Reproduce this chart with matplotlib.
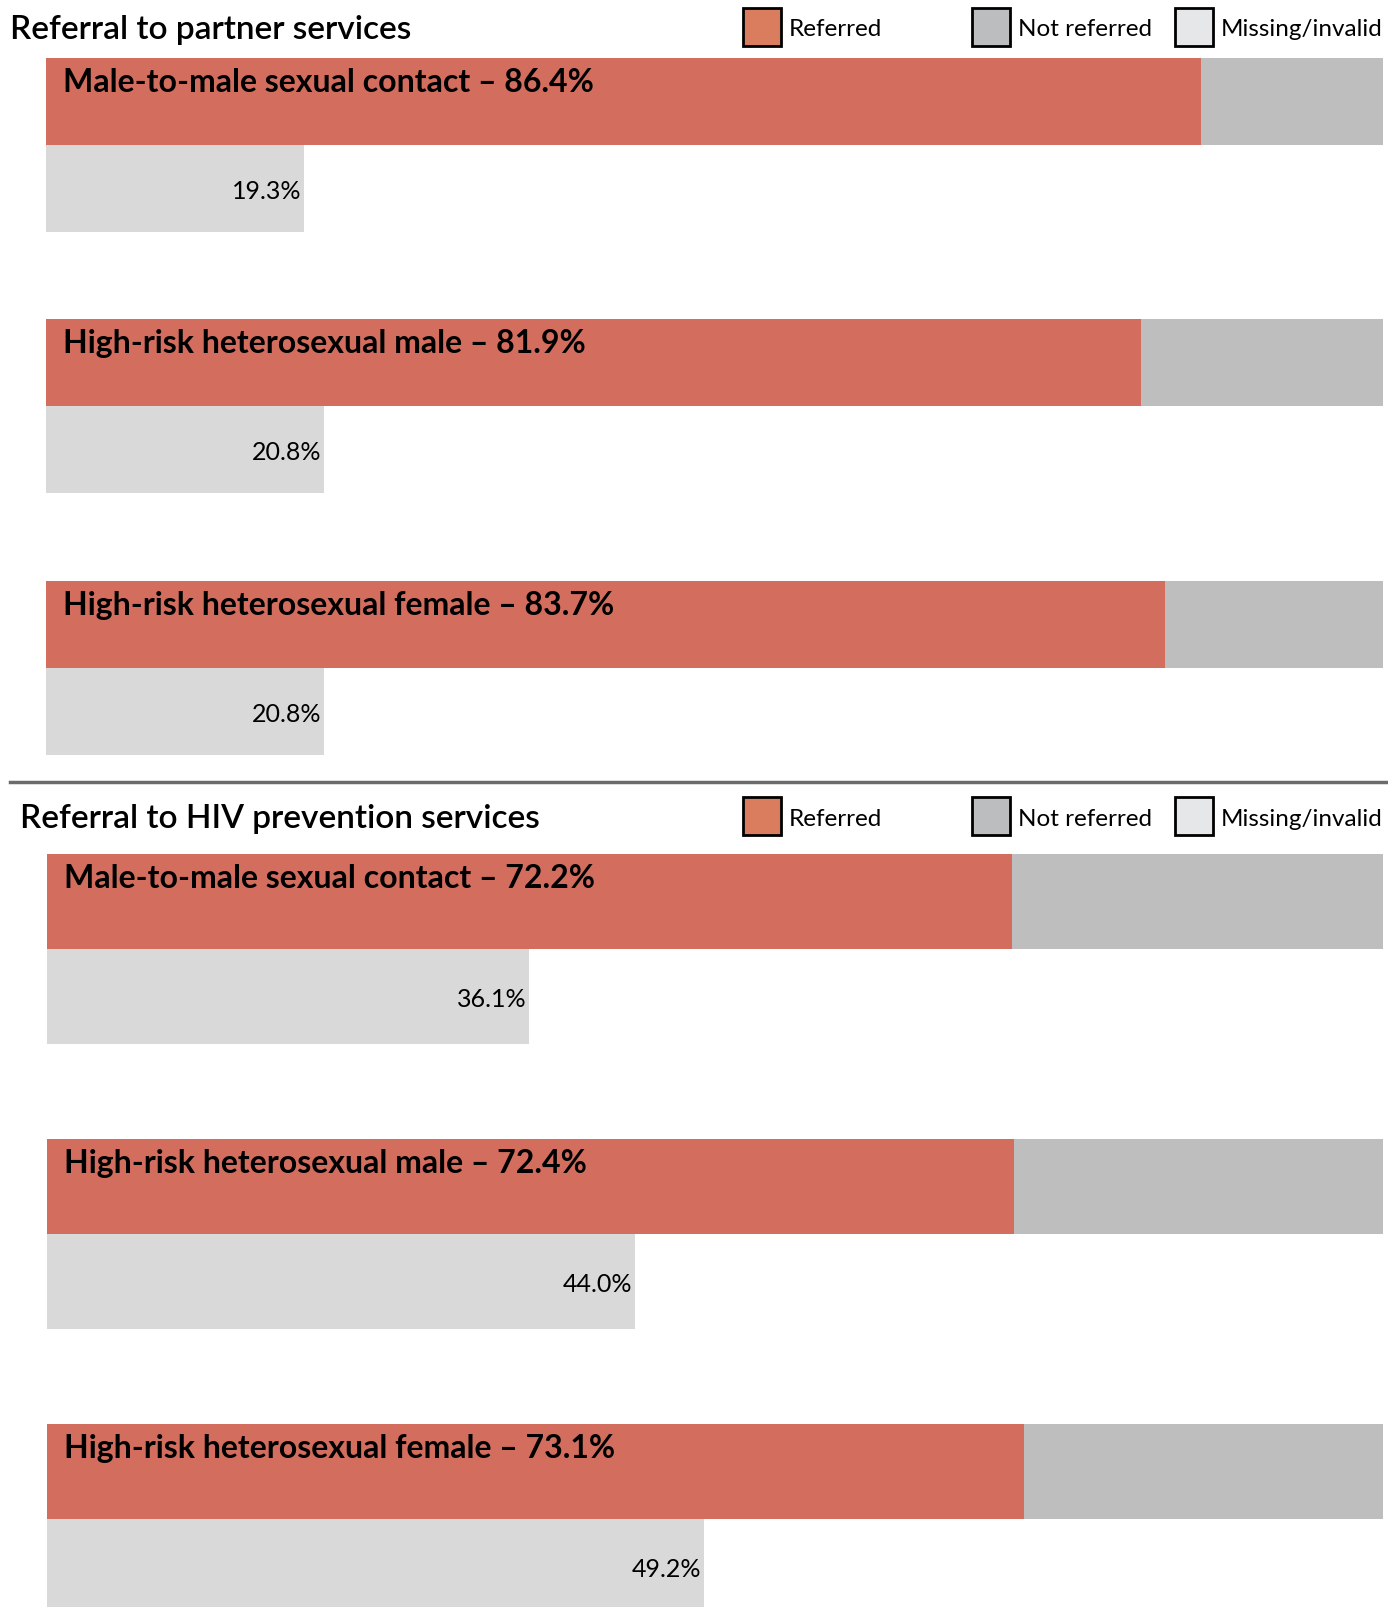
import matplotlib.pyplot as plt
from matplotlib.patches import Rectangle

# Data
groups = ["Male-to-male sexual contact", "High-risk heterosexual male", "High-risk heterosexual female"]
partner_referred = [86.4, 81.9, 83.7]
partner_missing = [19.3, 20.8, 20.8]
prevention_referred = [72.2, 72.4, 73.1]
prevention_missing = [36.1, 44.0, 49.2]
panel_titles = ["Referral to partner services", "Referral to HIV prevention services"]
legend_labels = ["Referred", "Not referred", "Missing/invalid"]

# Colours
REFERRED = "#D36E5F"
NOT_REFERRED = "#BEBEBE"
MISSING = "#D9D9D9"
LEGEND_COLORS = ["#D97D5E", "#BCBDBF", "#E6E7E8"]

W, H = 1388, 1608
FONT = "Lato"

fig = plt.figure(figsize=(W / 100, H / 100), dpi=100)


def px_rect(left, top, right, bottom):
    # convert pixel box to figure fraction [left, bottom, width, height]
    return [left / W, 1 - bottom / H, (right - left) / W, (bottom - top) / H]


def draw_panel(ax, referred, missing, ylim, label_off):
    for i, name in enumerate(groups):
        y_ref = 3 * i + 0.5
        y_mis = 3 * i + 1.5
        ax.barh(y_ref, referred[i], height=1.0, color=REFERRED, linewidth=0)
        ax.barh(y_ref, 100 - referred[i], left=referred[i], height=1.0,
                color=NOT_REFERRED, linewidth=0)
        ax.barh(y_mis, missing[i], height=1.0, color=MISSING, linewidth=0)
        ax.annotate(f"{name} \u2013 {referred[i]:.1f}%", xy=(0, 3 * i + label_off),
                    xytext=(12, 0), textcoords="offset points", ha="left", va="center",
                    fontsize=23, fontweight="bold", family=FONT, color="black")
        ax.annotate(f"{missing[i]:.1f}%", xy=(missing[i], y_mis + 0.02),
                    xytext=(-2, 0), textcoords="offset points", ha="right", va="center",
                    fontsize=18, family=FONT, color="black")
    ax.set_xlim(0, 100)
    ax.set_ylim(ylim, 0)
    ax.axis("off")


def draw_header(title, title_x, y_center):
    fig.text(title_x / W, 1 - (y_center + 2) / H, title, ha="left", va="center",
             fontsize=24, fontweight="semibold", family=FONT, color="black")
    square_x = [743, 972, 1175]
    for sx, col, lab in zip(square_x, LEGEND_COLORS, legend_labels):
        fig.patches.append(Rectangle((sx / W, 1 - (y_center + 19) / H), 38 / W, 38 / H,
                                     transform=fig.transFigure, facecolor=col,
                                     edgecolor="black", linewidth=2))
        fig.text((sx + 46) / W, 1 - (y_center + 2) / H, lab, ha="left", va="center",
                 fontsize=17.5, family=FONT, color="black")


# Panel 1: partner services
ax1 = fig.add_axes(px_rect(46, 58.5, 1383, 756))
draw_panel(ax1, partner_referred, partner_missing, 8.0, 0.27)
draw_header(panel_titles[0], 10, 28)

# separator line
fig.add_artist(plt.Line2D([10 / W, 1388 / W], [1 - 783 / H, 1 - 783 / H],
                          transform=fig.transFigure, color="#6B6B6B", linewidth=2.5))

# Panel 2: HIV prevention services
ax2 = fig.add_axes(px_rect(47, 855, 1383, 1608))
draw_panel(ax2, prevention_referred, prevention_missing, 7.93, 0.25)
draw_header(panel_titles[1], 19.5, 817)

fig.savefig("out.png", dpi=100)
